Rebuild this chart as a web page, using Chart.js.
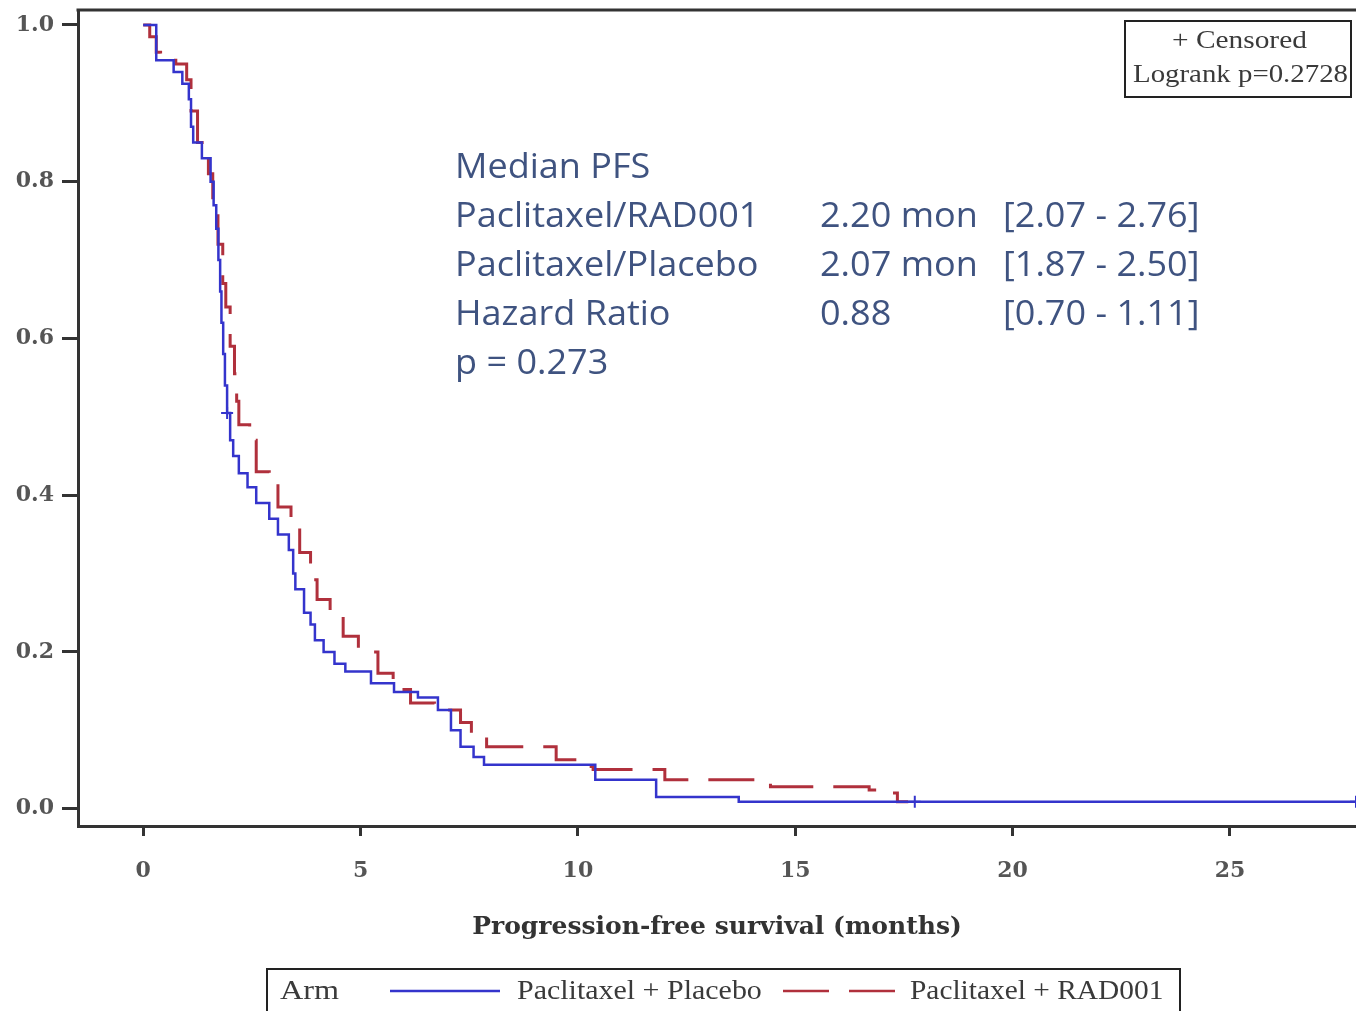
<!DOCTYPE html>
<html>
<head>
<meta charset="utf-8">
<script src="https://cdn.jsdelivr.net/npm/chart.js@4"></script>
<style>
  html, body { margin: 0; padding: 0; background: #fff; }
  #wrap { width: 1356px; height: 1011px; }
</style>
</head>
<body>
<div id="wrap"><canvas id="kmChart" width="1356" height="1011"></canvas></div>
<script>
// Paclitaxel + Placebo (months, survival after each step)
var placeboT = [0, 0.3, 0.7, 0.9, 1.05, 1.1, 1.15, 1.35, 1.55, 1.62, 1.68, 1.73, 1.77, 1.8, 1.84, 1.88, 1.93, 2.0, 2.07, 2.2, 2.4, 2.6, 2.9, 3.1, 3.35, 3.45, 3.5, 3.7, 3.85, 3.95, 4.15, 4.4, 4.65, 5.24, 5.77, 6.32, 6.78, 7.08, 7.3, 7.6, 7.84, 10.4, 11.8, 13.7, 27.9];
var placeboS = [1.0, 0.955, 0.94, 0.925, 0.905, 0.87, 0.85, 0.83, 0.80, 0.77, 0.74, 0.70, 0.66, 0.62, 0.58, 0.54, 0.505, 0.47, 0.45, 0.428, 0.41, 0.39, 0.37, 0.35, 0.33, 0.30, 0.28, 0.25, 0.235, 0.215, 0.20, 0.185, 0.175, 0.16, 0.149, 0.142, 0.126, 0.10, 0.079, 0.066, 0.056, 0.037, 0.015, 0.009, 0.009];

// Paclitaxel + RAD001
var radT = [0, 0.15, 0.3, 0.4, 0.75, 1.0, 1.1, 1.25, 1.5, 1.6, 1.72, 1.83, 1.9, 2.0, 2.1, 2.15, 2.2, 2.45, 2.6, 2.9, 3.1, 3.4, 3.6, 3.85, 4.0, 4.3, 4.6, 4.95, 5.4, 5.75, 6.15, 6.7, 7.3, 7.55, 7.9, 9.5, 10.0, 10.35, 12.0, 14.43, 16.7, 17.0, 17.35, 17.6];
var radS = [1.0, 0.985, 0.965, 0.955, 0.95, 0.93, 0.89, 0.85, 0.81, 0.775, 0.72, 0.67, 0.64, 0.59, 0.555, 0.52, 0.49, 0.47, 0.43, 0.415, 0.385, 0.36, 0.327, 0.292, 0.267, 0.245, 0.22, 0.20, 0.173, 0.152, 0.135, 0.126, 0.11, 0.092, 0.079, 0.0625, 0.054, 0.05, 0.037, 0.028, 0.024, 0.02, 0.009, 0.009];

// censored marks
var censorT = [1.93, 17.75, 27.9];
var censorS = [0.505, 0.009, 0.009];

var xTicks = [0, 5, 10, 15, 20, 25];
var yTicks = [0, 0.2, 0.4, 0.6, 0.8, 1.0];

var armLabels = ['Paclitaxel + Placebo', 'Paclitaxel + RAD001'];
var medianRows = [
    ['Median PFS', '', ''],
    ['Paclitaxel/RAD001', '2.20 mon', '[2.07 - 2.76]'],
    ['Paclitaxel/Placebo', '2.07 mon', '[1.87 - 2.50]'],
    ['Hazard Ratio', '0.88', '[0.70 - 1.11]'],
    ['p = 0.273', '', '']
];
var boxLines = ['+ Censored', 'Logrank p=0.2728'];

var blue = '#3434cc';
var red = '#b0303c';
var axisColor = '#333333';

function pts(ts, ss) {
    return ts.map(function (t, i) { return { x: t, y: ss[i] }; });
}

// text stretched horizontally
function stretchText(ctx, txt, x, y, sx) {
    ctx.save();
    ctx.translate(x, y);
    ctx.scale(sx, 1);
    ctx.fillText(txt, 0, 0);
    ctx.restore();
}

var extras = {
    id: 'extras',
    afterDraw: function (chart) {
        var ctx = chart.ctx;
        var area = chart.chartArea;
        ctx.save();

        // top frame line
        ctx.strokeStyle = axisColor;
        ctx.lineWidth = 3;
        ctx.beginPath();
        ctx.moveTo(area.left - 1.5, area.top);
        ctx.lineTo(area.right, area.top);
        ctx.stroke();

        // median pfs block
        ctx.fillStyle = '#3f5380';
        ctx.font = '34px "Open Sans"';
        ctx.textBaseline = 'middle';
        var cols = [455, 820, 1003];
        medianRows.forEach(function (row, r) {
            row.forEach(function (txt, c) {
                if (txt) stretchText(ctx, txt, cols[c], 168 + r * 49, 1.06);
            });
        });

        // censored / logrank box
        ctx.strokeStyle = '#222';
        ctx.lineWidth = 2;
        ctx.strokeRect(1125, 21, 226, 76);
        ctx.fillStyle = '#3a3a3a';
        ctx.font = '26px "Liberation Serif"';
        ctx.textAlign = 'left';
        stretchText(ctx, boxLines[0], 1172, 41, 1.13);
        stretchText(ctx, boxLines[1], 1133, 75, 1.11);

        // legend box
        ctx.strokeStyle = '#222';
        ctx.lineWidth = 2;
        ctx.strokeRect(267, 969, 913, 44);
        ctx.fillStyle = '#3a3a3a';
        ctx.font = '28px "Liberation Serif"';
        stretchText(ctx, 'Arm', 280, 992, 1.15);
        stretchText(ctx, armLabels[0], 517, 992, 1.07);
        stretchText(ctx, armLabels[1], 910, 992, 1.05);

        ctx.lineWidth = 2.5;
        ctx.strokeStyle = blue;
        ctx.beginPath();
        ctx.moveTo(390, 991);
        ctx.lineTo(500, 991);
        ctx.stroke();
        ctx.strokeStyle = red;
        ctx.setLineDash([46, 20]);
        ctx.beginPath();
        ctx.moveTo(783, 991);
        ctx.lineTo(897, 991);
        ctx.stroke();
        ctx.restore();
    }
};

var ctx1 = document.getElementById('kmChart').getContext('2d');
var kmChart = new Chart(ctx1, {
    type: 'line',
    data: {
        datasets: [{
            label: armLabels[0],
            data: pts(placeboT, placeboS),
            borderColor: blue,
            borderWidth: 2.5,
            stepped: true,
            pointRadius: 0,
            fill: false
        }, {
            label: armLabels[1],
            data: pts(radT, radS),
            borderColor: red,
            borderWidth: 3,
            borderDash: [46, 20],
            stepped: true,
            pointRadius: 0,
            fill: false
        }, {
            label: 'Censored',
            data: pts(censorT, censorS),
            showLine: false,
            pointStyle: 'cross',
            pointRadius: 6,
            borderColor: blue,
            borderWidth: 2
        }]
    },
    options: {
        responsive: false,
        animation: false,
        layout: { autoPadding: false, padding: { top: 10, right: 0, bottom: 65, left: 0 } },
        plugins: {
            legend: { display: false },
            tooltip: { enabled: false }
        },
        scales: {
            x: {
                type: 'linear',
                min: -1.5,
                max: 27.9,
                afterFit: function (scale) {
                    scale.height = 120;
                    scale.paddingLeft = 0;
                    scale.paddingRight = 0;
                },
                afterBuildTicks: function (scale) {
                    scale.ticks = xTicks.map(function (v) { return { value: v }; });
                },
                ticks: {
                    color: '#555',
                    font: { family: 'DejaVu Serif', size: 22, weight: 'bold' },
                    padding: 22,
                    maxRotation: 0
                },
                grid: { drawOnChartArea: false, drawTicks: true, tickLength: 10, color: axisColor, lineWidth: 3 },
                border: { display: true, color: axisColor, width: 3 },
                title: {
                    display: true,
                    text: 'Progression-free survival (months)',
                    color: '#333',
                    font: { family: 'DejaVu Serif', size: 25, weight: 'bold' }
                }
            },
            y: {
                min: -0.022,
                max: 1.019,
                afterFit: function (scale) {
                    scale.width = 78;
                    scale.paddingTop = 0;
                    scale.paddingBottom = 0;
                },
                afterBuildTicks: function (scale) {
                    scale.ticks = yTicks.map(function (v) { return { value: v }; });
                },
                ticks: {
                    color: '#555',
                    font: { family: 'DejaVu Serif', size: 22, weight: 'bold' },
                    padding: 8,
                    callback: function (v) { return v.toFixed(1); }
                },
                grid: { drawOnChartArea: false, drawTicks: true, tickLength: 16, color: axisColor, lineWidth: 3 },
                border: { display: true, color: axisColor, width: 3 }
            }
        }
    },
    plugins: [extras]
});
</script>
</body>
</html>
